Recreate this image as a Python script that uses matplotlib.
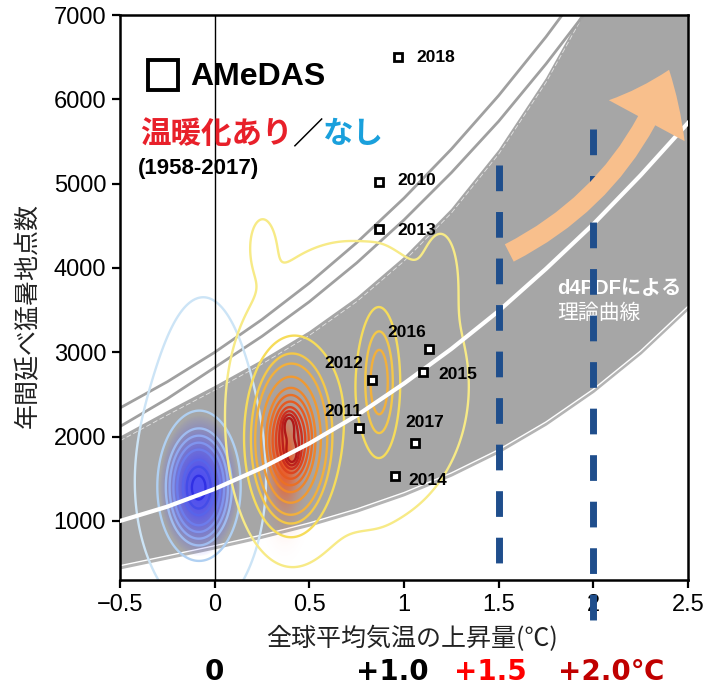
import numpy as np
import matplotlib
matplotlib.use("Agg")
import matplotlib.pyplot as plt
import matplotlib.transforms as mtransforms
from matplotlib.patches import FancyArrowPatch

plt.rcParams['font.family'] = ['Liberation Sans', 'Noto Sans CJK JP']
plt.rcParams['axes.unicode_minus'] = True

# ---- d4PDF theoretical curves (x: global-mean warming, y: annual count) ----
curve_x = [-0.5, -0.25, 0.0, 0.25, 0.5, 0.75, 1.0, 1.25, 1.5, 1.75, 2.0, 2.25, 2.5]
curve_median = [1000, 1170, 1380, 1630, 1920, 2250, 2630, 3040, 3490, 3990, 4520, 5100, 5720]
band_lower = [443, 561, 680, 807, 950, 1115, 1310, 1543, 1819, 2148, 2536, 2991, 3519]
band_upper = [2000, 2305, 2600, 2910, 3250, 3650, 4130, 4700, 5400, 6250, 7260, 8450, 9860]
outlier_a = [2340, 2651, 3000, 3389, 3821, 4300, 4828, 5409, 6045, 6741, 7497, 8320, 9208]
outlier_b = [2120, 2450, 2820, 3190, 3600, 4060, 4570, 5130, 5740, 6420, 7150, 7950, 8800]

# ---- AMeDAS observations ----
obs_year = [2010, 2011, 2012, 2013, 2014, 2015, 2016, 2017, 2018]
obs_dT = [0.87, 0.76, 0.83, 0.87, 0.95, 1.10, 1.13, 1.06, 0.97]
obs_count = [5020, 2100, 2670, 4460, 1530, 2770, 3040, 1925, 6500]
# label offsets (points) for the year tags
obs_dx = [27, -11, -20, 27, 24, 25, -16, 7, 27]
obs_dy = [1, 12, 12, -1, -3, -2, 12, 15, 0]

# ---- density of the ensemble: no-warming / warming experiments ----
# gaussian components: centre x, centre y, spread x, spread y, weight
cold_cx = [-0.085, -0.08, -0.06]
cold_cy = [1390, 1450, 1900]
cold_sx = [0.105, 0.16, 0.21]
cold_sy = [410, 650, 1400]
cold_w = [1.0, 0.10, 0.065]

warm_cx = [0.40, 0.39, 0.41, 0.87, 0.72, 0.25, 1.20]
warm_cy = [1950, 2170, 1760, 2650, 2600, 4300, 4000]
warm_sx = [0.105, 0.025, 0.025, 0.055, 0.38, 0.05, 0.06]
warm_sy = [500, 100, 100, 480, 1050, 250, 350]
warm_w = [1.0, 0.16, 0.16, 0.24, 0.065, 0.022, 0.02]

# bright core of the warming experiment
glow_cx, glow_cy, glow_sx, glow_sy = 0.37, 1700, 0.045, 330

cold_levels = [0.03, 0.185, 0.35, 0.45, 0.563, 0.686, 0.873, 0.985, 1.1]
cold_colors = ['#cce4f6', '#b0d0f2', '#a0bcf0', '#90a8f0', '#8094ee',
               '#6c7cec', '#5864ea', '#444ce8', '#3030e4']
warm_levels = [0.017, 0.084, 0.16, 0.231, 0.36, 0.5, 0.6, 0.7, 0.8, 0.89, 0.97, 1.045]
warm_colors = ['#f7ea86', '#f6dc5a', '#f4c848', '#f2b03c', '#f09a32', '#ee862c',
               '#ea7026', '#e65a22', '#dc4420', '#cc2e1e', '#bc201c', '#b01818']

targets = [1.5, 2.0]
target_top = [5220, 5650]
target_bottom = [500, -200]

fig = plt.figure(figsize=(7.07, 6.88), dpi=100)
ax = fig.add_axes([120 / 707, 108 / 688, 568 / 707, 565 / 688])

# theoretical band
ax.fill_between(curve_x, band_lower, band_upper, color='#a6a6a6', lw=0, zorder=1)
ax.plot(curve_x, band_lower, color='#b4b4b4', lw=2.2, zorder=1.1)
shift_up = mtransforms.offset_copy(ax.transData, fig=fig, x=0, y=1.6, units='points')
ax.plot(curve_x, band_lower, color='white', lw=1.0, zorder=1.2, transform=shift_up)
shift_dn = mtransforms.offset_copy(ax.transData, fig=fig, x=0, y=-3, units='points')
ax.plot(curve_x, band_upper, color='white', lw=0.6, alpha=0.7, dashes=(6, 3),
        zorder=1.2, transform=shift_dn)
for ys in (outlier_a, outlier_b):
    ax.plot(curve_x, ys, color='#a0a0a0', lw=2.0, zorder=1.3)

# ensemble densities
gx = np.linspace(-0.5, 2.5, 600)
gy = np.linspace(0, 7000, 600)
GX, GY = np.meshgrid(gx, gy)


def mixture(cx, cy, sx, sy, w):
    z = np.zeros_like(GX)
    for a, b, c, d, e in zip(cx, cy, sx, sy, w):
        z += e * np.exp(-0.5 * (((GX - a) / c) ** 2 + ((GY - b) / d) ** 2))
    return z


z_cold = mixture(cold_cx, cold_cy, cold_sx, cold_sy, cold_w)
z_warm = mixture(warm_cx, warm_cy, warm_sx, warm_sy, warm_w)
z_glow = mixture([glow_cx], [glow_cy], [glow_sx], [glow_sy], [1.0])

glow = np.zeros(z_cold.shape + (4,))
glow[..., 0], glow[..., 1], glow[..., 2] = 0.25, 0.25, 1.0
glow[..., 3] = np.clip((z_cold - 0.22) / 0.9, 0, 1) ** 0.7 * 0.85
ax.imshow(glow, extent=[-0.5, 2.5, 0, 7000], origin='lower', aspect='auto',
          zorder=2, interpolation='bilinear')
glow_w = np.zeros(z_glow.shape + (4,))
glow_w[..., 0], glow_w[..., 1], glow_w[..., 2] = 1.0, 0.28, 0.02
glow_w[..., 3] = np.clip(z_glow, 0, 1) ** 0.8 * 0.8
ax.imshow(glow_w, extent=[-0.5, 2.5, 0, 7000], origin='lower', aspect='auto',
          zorder=2, interpolation='bilinear')

ax.contour(GX, GY, z_cold, levels=cold_levels, colors=cold_colors,
           linewidths=1.7, zorder=2.5)
ax.contour(GX, GY, z_warm, levels=warm_levels, colors=warm_colors,
           linewidths=1.7, zorder=2.5)

# median theoretical curve
ax.plot(curve_x, curve_median, color='white', lw=3.0, zorder=3)

# zero line
ax.axvline(0, color='black', lw=1.0, zorder=3.5)

ax.text(1.81, 3760, 'd4PDFによる', color='white', fontsize=14.5, fontweight='bold',
        ha='left', va='center', zorder=3.6, family=['Liberation Sans', 'Noto Sans CJK JP'])
ax.text(1.81, 3470, '理論曲線', color='white', fontsize=15, ha='left', va='center',
        zorder=3.6, family=['Noto Sans CJK JP'])

# warming targets
for xt, yt, yb in zip(targets, target_top, target_bottom):
    ax.plot([xt, xt], [yt, yb], color='#1f4e8c', lw=5.0, dashes=(3.7, 3.0),
            solid_capstyle='butt', dash_capstyle='butt', zorder=4, clip_on=False)

# trend arrow
arrow = FancyArrowPatch((1.556, 4178), (2.40, 6350),
                        arrowstyle='simple,head_width=62,head_length=40,tail_width=14',
                        connectionstyle='arc3,rad=0.2', mutation_scale=1,
                        shrinkA=0, shrinkB=0, color='#f8bf8c', lw=0, zorder=4.5)
ax.add_patch(arrow)

# AMeDAS observations
ax.plot(obs_dT, obs_count, ls='none', marker='s', ms=5.5, mfc='white', mec='black',
        mew=2.0, zorder=5)
for yr, x, y, dx, dy in zip(obs_year, obs_dT, obs_count, obs_dx, obs_dy):
    ax.annotate(str(yr), (x, y), xytext=(dx, dy), textcoords='offset points',
                ha='center', va='center', fontsize=12.5, fontweight='bold', zorder=5)

# legend block
ax.plot([0.0757], [0.894], transform=ax.transAxes, marker='s', ms=21, mfc='none',
        mec='black', mew=2.8, zorder=6)
ax.text(0.123, 0.876, 'AMeDAS', transform=ax.transAxes, fontsize=23, fontweight='bold',
        ha='left', va='baseline', zorder=6)
t1 = ax.text(0.035, 0.773, '温暖化あり', transform=ax.transAxes, fontsize=22,
             fontweight='bold', color='#e8202a', ha='left', va='baseline',
             family=['Noto Sans CJK JP'], zorder=6)
t2 = ax.annotate('／', xy=(1, 0), xycoords=t1, fontsize=22, fontweight='bold',
                 color='black', ha='left', va='bottom', family=['Noto Sans CJK JP'],
                 zorder=6)
ax.annotate('なし', xy=(1, 0), xycoords=t2, fontsize=22, fontweight='bold',
            color='#1aa0dc', ha='left', va='bottom', family=['Noto Sans CJK JP'], zorder=6)
ax.text(0.032, 0.7186, '(1958-2017)', transform=ax.transAxes, fontsize=16,
        fontweight='bold', ha='left', va='baseline', zorder=6)

# axes styling
ax.set_xlim(-0.5, 2.5)
ax.set_ylim(300, 7000)
ax.set_xticks([-0.5, 0, 0.5, 1, 1.5, 2, 2.5])
ax.set_xticklabels(['\u22120.5', '0', '0.5', '1', '1.5', '2', '2.5'])
ax.set_yticks([1000, 2000, 3000, 4000, 5000, 6000, 7000])
ax.tick_params(axis='both', labelsize=17, length=6, width=1.6, direction='out', pad=4)
for sp in ax.spines.values():
    sp.set_linewidth(1.8)

ax.set_ylabel('年間延べ猛暑地点数', fontsize=18, family=['Noto Sans CJK JP'],
              color='#222222', va='center')
ax.yaxis.set_label_coords(-0.162, 0.469)
ax.set_xlabel('全球平均気温の上昇量(℃)', fontsize=18, family=['Noto Sans CJK JP'],
              color='#222222', va='center')
ax.xaxis.set_label_coords(0.514, -0.104)

# warming levels under the axis
bottom_labels = ['0', '+1.0', '+1.5', '+2.0℃']
bottom_x = [0.0, 0.94, 1.455, 2.095]
bottom_colors = ['black', 'black', '#ff0000', '#c00000']
tr = mtransforms.blended_transform_factory(ax.transData, ax.transAxes)
for s, x, c in zip(bottom_labels, bottom_x, bottom_colors):
    ax.text(x, -0.163, s, transform=tr, fontsize=20, fontweight='bold', color=c,
            ha='center', va='center', family=['DejaVu Sans', 'Noto Sans CJK JP'])

fig.savefig('out.png', dpi=100)
